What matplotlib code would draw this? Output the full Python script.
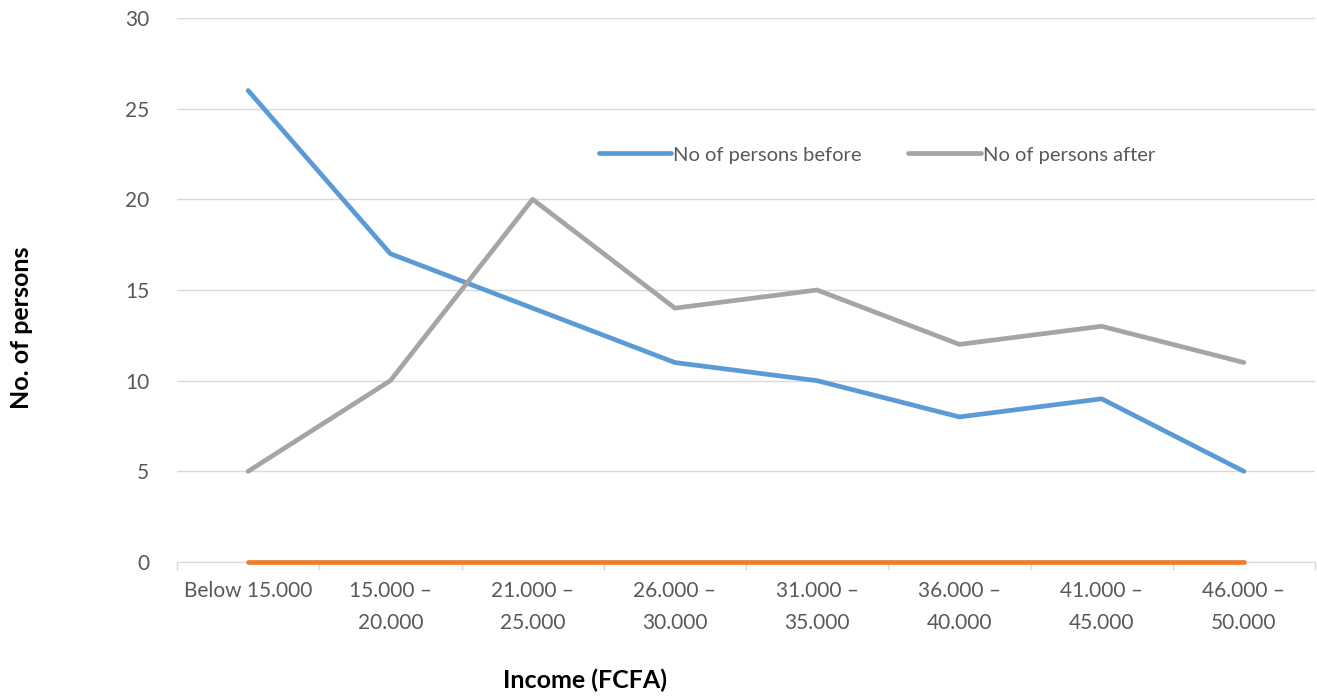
import matplotlib.pyplot as plt
import numpy as np

# chart data
categories = ['Below 15.000', '15.000 –\n20.000', '21.000 –\n25.000', '26.000 –\n30.000',
              '31.000 –\n35.000', '36.000 –\n40.000', '41.000 –\n45.000', '46.000 –\n50.000']
persons_before = [26, 17, 14, 11, 10, 8, 9, 5]
persons_after = [5, 10, 20, 14, 15, 12, 13, 11]
hidden_series = [0, 0, 0, 0, 0, 0, 0, 0]
y_ticks = [0, 5, 10, 15, 20, 25, 30]

plt.rcParams['font.family'] = ['Lato', 'DejaVu Sans']

fig = plt.figure(figsize=(13.17, 6.98), dpi=100)
ax = fig.add_axes([177 / 1317, 136 / 698, 1138 / 1317, 544 / 698])

x = np.arange(len(categories))
ax.plot(x, hidden_series, color='#ED7D31', lw=3.4, solid_capstyle='round', zorder=5, clip_on=False)
ax.plot(x, persons_before, color='#5B9BD5', lw=3.4, solid_capstyle='round',
        label='No of persons before', zorder=4)
ax.plot(x, persons_after, color='#A5A5A5', lw=3.4, solid_capstyle='round',
        label='No of persons after', zorder=4)

ax.set_xlim(-0.5, len(categories) - 0.5)
ax.set_ylim(0, 30)
ax.set_yticks(y_ticks)
ax.set_xticks(x)
ax.set_xticklabels(categories, linespacing=1.75)
ax.set_xticks(np.arange(len(categories) + 1) - 0.5, minor=True)

ax.grid(axis='y', color='#D9D9D9', lw=1)
ax.set_axisbelow(True)
for s in ['top', 'right', 'left']:
    ax.spines[s].set_visible(False)
ax.spines['bottom'].set_color('#D9D9D9')

ax.tick_params(axis='y', length=0, pad=20, labelsize=15, labelcolor='#595959')
ax.tick_params(axis='x', which='major', length=0, pad=14, labelsize=15, labelcolor='#595959')
ax.tick_params(axis='x', which='minor', length=6, color='#D9D9D9', width=1)

fig.legend(loc='center', bbox_to_anchor=(877 / 1317, 1 - 155 / 698), ncol=2, frameon=False,
           fontsize=14.5, labelcolor='#595959', handlelength=3.6, handletextpad=0.1,
           columnspacing=2.3)

fig.text(22 / 1317, 1 - 328 / 698, 'No. of persons', rotation=90, ha='center', va='center',
         fontsize=18, fontweight='bold')
fig.text(585 / 1317, 1 - 680 / 698, 'Income (FCFA)', ha='center', va='center',
         fontsize=18, fontweight='bold')

fig.savefig('out.png', dpi=100)
